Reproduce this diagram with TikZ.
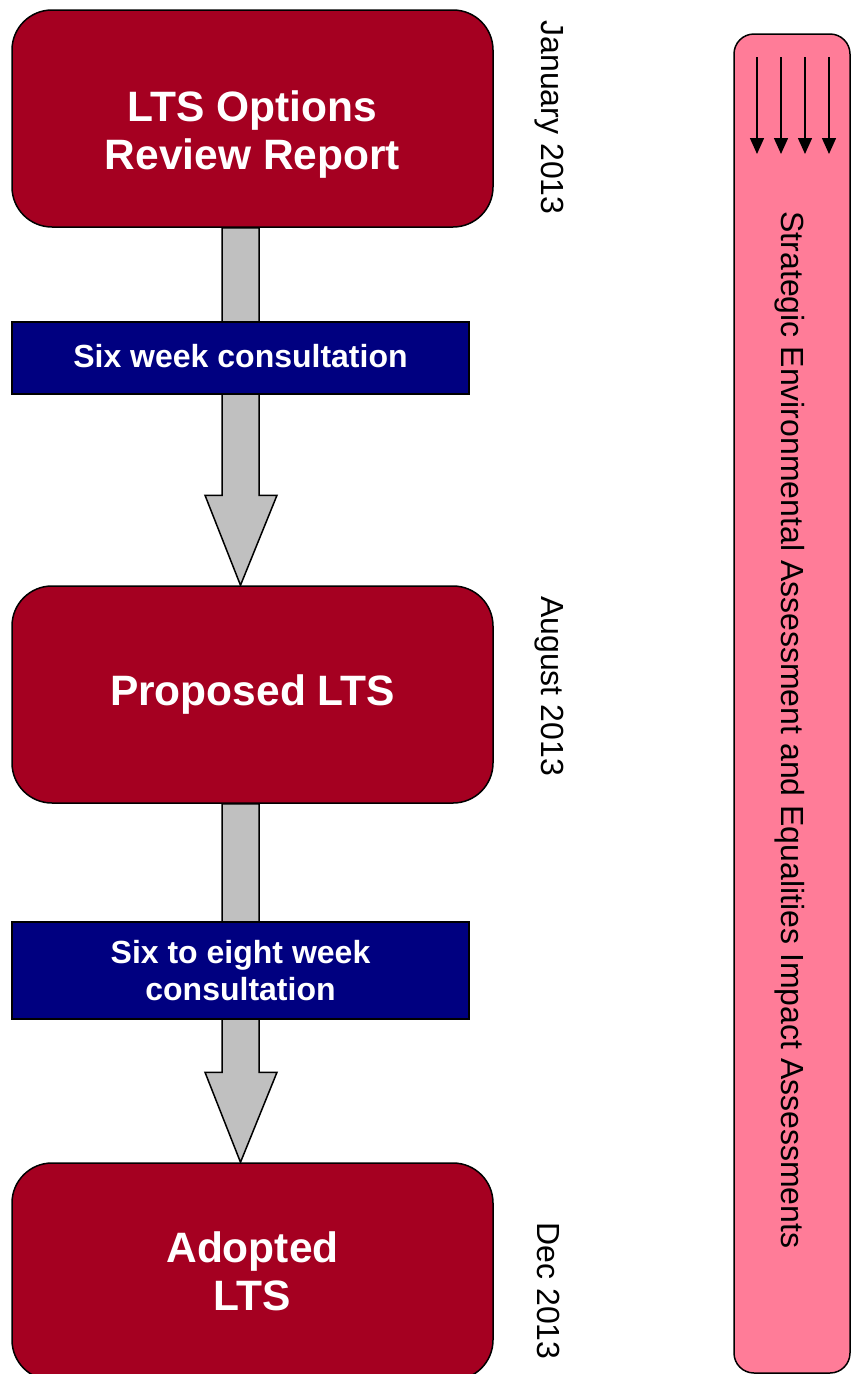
\documentclass[tikz,border=0pt]{standalone}
\usepackage{fontspec}
\setmainfont{Liberation Sans}
\usetikzlibrary{calc,arrows.meta,backgrounds}
\definecolor{boxred}{HTML}{A50021}
\definecolor{boxblue}{HTML}{000080}
\definecolor{sidepink}{HTML}{FF7C98}
\definecolor{arrowgray}{HTML}{C0C0C0}
\tikzset{
  stagebox/.style={draw=black, line width=1.5pt, fill=boxred, rounded corners=40pt,
    minimum width=481pt, minimum height=217pt, text=white, align=center,
    font=\fontsize{42.5}{48}\selectfont\bfseries, inner sep=0pt},
  consultbox/.style={draw=black, line width=1.5pt, fill=boxblue, minimum width=457pt,
    text=white, align=center, font=\fontsize{32}{37}\selectfont\bfseries, inner sep=0pt},
  datelabel/.style={rotate=-90, font=\fontsize{32}{38}\selectfont, inner sep=0pt},
  blockarrow/.style={draw=black, line width=1.5pt, fill=arrowgray, line join=miter},
  sidebox/.style={draw=black, line width=1.5pt, fill=sidepink, rounded corners=20pt},
  thinarrow/.style={draw=black, line width=1.5pt, -{Triangle[width=14pt,length=16pt]}},
}
\begin{document}
\begin{tikzpicture}[x=1pt,y=-1pt]
\useasboundingbox (0,0) rectangle (851,1374);
% side panel
\path[sidebox] (734,34) rectangle (850,1373);
\node[rotate=-90, font=\fontsize{32}{38}\selectfont, inner sep=0pt] (sea) at (790,730)
  {Strategic Environmental Assessment and Equalities Impact Assessments};
\foreach \i/\xx in {1/757,2/781,3/805,4/829}{
  \coordinate (s\i) at (\xx,57);
  \coordinate (e\i) at (\xx,154);
  \draw[thinarrow] (s\i) -- (e\i);
}
% boxes
\node[stagebox] (b1) at (252.5,118.5) {\rule{0pt}{63pt}LTS Options\\Review Report};
\node[stagebox] (b2) at (252.5,694.5) {Proposed LTS};
\node[stagebox] (b3) at (252.5,1271.5) {Adopted\\LTS};
\node[consultbox, minimum height=72pt] (k1) at (240.5,358) {\raisebox{4pt}{Six week consultation}};
\node[consultbox, minimum height=97pt] (k2) at (240.5,970.5) {Six to eight week\\consultation};
% block arrows behind
\begin{scope}[on background layer]
\draw[blockarrow] ($(b1.south)+(-30.5,0)$) -- ($(b2.north)+(-30.5,-90)$) -- ($(b2.north)+(-47.5,-90)$)
  -- ($(b2.north)+(-12,0)$) -- ($(b2.north)+(24.5,-90)$) -- ($(b2.north)+(6.5,-90)$)
  -- ($(b1.south)+(6.5,0)$) -- cycle;
\draw[blockarrow] ($(b2.south)+(-30.5,0)$) -- ($(b3.north)+(-30.5,-90)$) -- ($(b3.north)+(-47.5,-90)$)
  -- ($(b3.north)+(-12,0)$) -- ($(b3.north)+(24.5,-90)$) -- ($(b3.north)+(6.5,-90)$)
  -- ($(b2.south)+(6.5,0)$) -- cycle;
\end{scope}
% dates
\node[datelabel] (d1) at (549,117.5) {January 2013};
\node[datelabel] (d2) at (549,686) {August 2013};
\node[datelabel] (d3) at (549,1291) {Dec 2013};
\end{tikzpicture}
\end{document}
